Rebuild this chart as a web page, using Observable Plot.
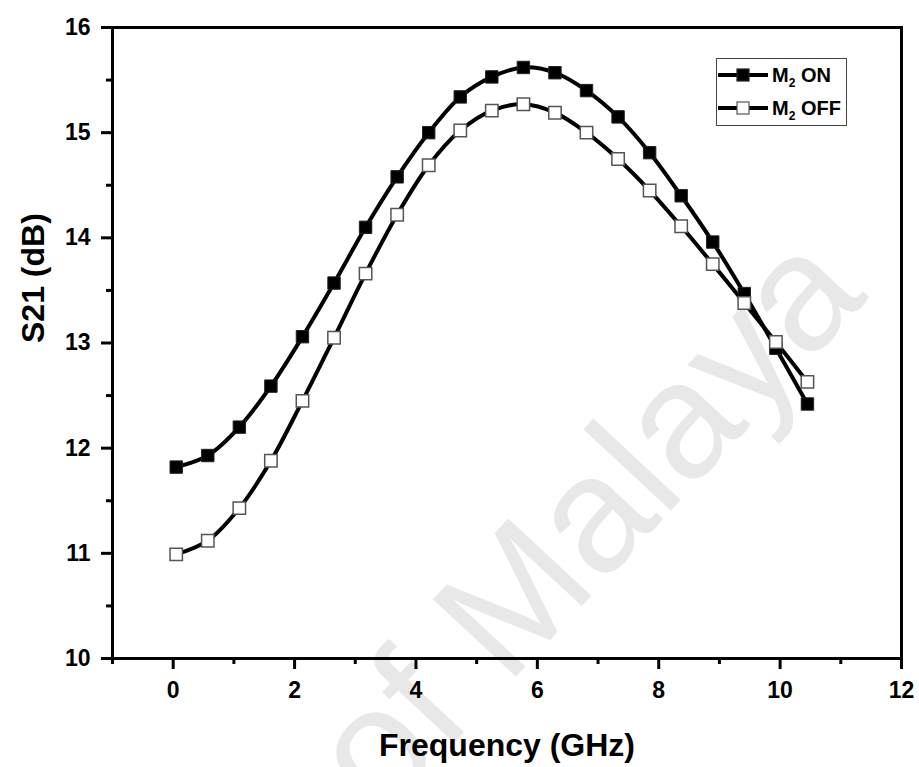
<!DOCTYPE html>
<html>
<head>
<meta charset="utf-8">
<script src="https://cdn.jsdelivr.net/npm/d3@7"></script>
<script src="https://cdn.jsdelivr.net/npm/@observablehq/plot@0.6"></script>
<style>
  html, body { margin: 0; padding: 0; background: #fff; }
  #wrap { position: relative; width: 919px; height: 767px; overflow: hidden; font-family: "Liberation Sans", Arial, sans-serif; }
  #legend { position: absolute; left: 716px; top: 58px; width: 129px; height: 66px; border: 1px solid #444; background: #fff; }
  #legend .row { position: absolute; left: 0; height: 24px; display: flex; align-items: center; }
  #legend .lbl { font-weight: bold; font-size: 20px; margin-left: 3px; color: #000; white-space: nowrap; }
  #legend sub { font-size: 12px; vertical-align: -5px; line-height: 0; }
</style>
</head>
<body>
<div id="wrap"></div>
<script>
const freq = [0.05, 0.57, 1.09, 1.61, 2.13, 2.65, 3.17, 3.69, 4.21, 4.73, 5.25, 5.77, 6.29, 6.81, 7.33, 7.85, 8.37, 8.89, 9.41, 9.93, 10.45];
const s21On = [11.82, 11.93, 12.20, 12.59, 13.06, 13.57, 14.10, 14.58, 15.00, 15.34, 15.53, 15.62, 15.57, 15.40, 15.15, 14.81, 14.40, 13.96, 13.47, 12.95, 12.42];
const s21Off = [10.99, 11.12, 11.43, 11.88, 12.45, 13.05, 13.66, 14.22, 14.69, 15.02, 15.21, 15.27, 15.19, 15.00, 14.75, 14.45, 14.11, 13.75, 13.38, 13.01, 12.63];
const seriesNames = ["M2 ON", "M2 OFF"];
const xMajor = [0, 2, 4, 6, 8, 10, 12];
const xMinor = [-1, 1, 3, 5, 7, 9, 11];
const yMajor = [10, 11, 12, 13, 14, 15, 16];
const yMinor = [10.5, 11.5, 12.5, 13.5, 14.5, 15.5];

const onData = freq.map((f, i) => ({f, v: s21On[i]}));
const offData = freq.map((f, i) => ({f, v: s21Off[i]}));

const font = "Liberation Sans, Arial, sans-serif";

const chart = Plot.plot({
  width: 919,
  height: 767,
  marginLeft: 112,
  marginRight: 18,
  marginTop: 27,
  marginBottom: 109,
  style: {fontFamily: font, background: "transparent", color: "#000", overflow: "hidden"},
  x: {domain: [-1, 12]},
  y: {domain: [10, 16]},
  marks: [
    Plot.text(["of Malaya"], {frameAnchor: "middle", dx: 80, dy: 180, rotate: -47, fontSize: 165, fill: "#e8e8e8", fontFamily: font}),
    Plot.axisX({ticks: xMajor, tickSize: 11, tickPadding: 12, strokeWidth: 3, fontSize: 23, fontWeight: "bold", label: null, tickFormat: d => String(d)}),
    Plot.axisX({ticks: xMinor, tickSize: 6, strokeWidth: 3, text: null, label: null}),
    Plot.axisY({ticks: yMajor, tickSize: 11, tickPadding: 11, strokeWidth: 3, fontSize: 23, fontWeight: "bold", label: null, tickFormat: d => String(d)}),
    Plot.axisY({ticks: yMinor, tickSize: 6, strokeWidth: 3, text: null, label: null}),
    Plot.frame({stroke: "#000", strokeWidth: 3}),
    Plot.text(["Frequency (GHz)"], {frameAnchor: "bottom", dy: 87, lineAnchor: "middle", fontSize: 32, fontWeight: "bold", fontFamily: font}),
    Plot.text(["S21 (dB)"], {frameAnchor: "left", dx: -79, rotate: -90, lineAnchor: "middle", fontSize: 32, fontWeight: "bold", fontFamily: font}),
    Plot.line(onData, {x: "f", y: "v", stroke: "#000", strokeWidth: 4, curve: "catmull-rom"}),
    Plot.line(offData, {x: "f", y: "v", stroke: "#000", strokeWidth: 4, curve: "catmull-rom"}),
    Plot.dot(onData, {x: "f", y: "v", symbol: "square", r: 7, fill: "#000", stroke: "#222", strokeWidth: 1}),
    Plot.dot(offData, {x: "f", y: "v", symbol: "square", r: 7, fill: "#fff", stroke: "#555", strokeWidth: 1.5})
  ]
});

const wrap = document.getElementById("wrap");
wrap.appendChild(chart);

// Legend
const legend = document.createElement("div");
legend.id = "legend";
const styles = [{fill: "#000", stroke: "#222"}, {fill: "#fff", stroke: "#555"}];
seriesNames.forEach((name, i) => {
  const row = document.createElement("div");
  row.className = "row";
  row.style.top = (i === 0 ? 4 : 37) + "px";
  const ns = "http://www.w3.org/2000/svg";
  const s = document.createElementNS(ns, "svg");
  s.setAttribute("width", "52"); s.setAttribute("height", "24");
  const ln = document.createElementNS(ns, "line");
  ln.setAttribute("x1", "1"); ln.setAttribute("x2", "51"); ln.setAttribute("y1", "12"); ln.setAttribute("y2", "12");
  ln.setAttribute("stroke", "#000"); ln.setAttribute("stroke-width", "4");
  const r = document.createElementNS(ns, "rect");
  r.setAttribute("x", "20"); r.setAttribute("y", "6"); r.setAttribute("width", "12"); r.setAttribute("height", "12");
  r.setAttribute("fill", styles[i].fill); r.setAttribute("stroke", styles[i].stroke); r.setAttribute("stroke-width", "1.2");
  s.appendChild(ln); s.appendChild(r);
  row.appendChild(s);
  const t = document.createElement("span");
  t.className = "lbl";
  const parts = name.split("2");
  t.innerHTML = parts[0] + "<sub>2</sub>" + parts.slice(1).join("2");
  row.appendChild(t);
  legend.appendChild(row);
});
wrap.appendChild(legend);
</script>
</body>
</html>
